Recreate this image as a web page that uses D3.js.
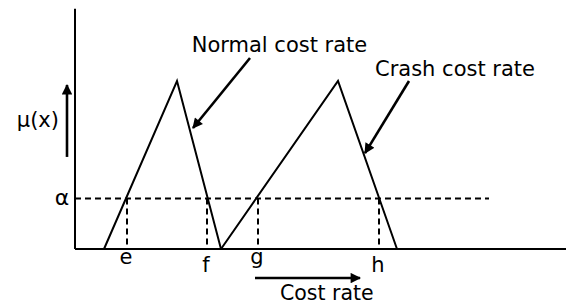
<html lang="en">
<head>
<meta charset="UTF-8">
<title>Normal and crash cost rate</title>
<style>
  body { margin: 0; background: #fff; }
  text { font-family: "DejaVu Sans", Verdana, sans-serif; fill: #000; }
</style>
</head>
<body>
<script src="https://d3js.org/d3.v7.min.js"></script>
<script>
    const w = 566;
    const h = 304;

    // fuzzy numbers (x in cost-rate units, y = membership)
    const normalPts = [[2.9, 0], [10.2, 1], [14.6, 0]];
    const crashPts = [[14.6, 0], [26.3, 1], [32.2, 0]];
    const alpha = 0.3;
    const cutLabels = ["e", "f", "g", "h"];
    const cutValues = [5.2, 13.2, 18.3, 30.4];
    const labelDrop = [0, 1, 0, 1]; // f and h sit lower

    const xScale = d3.scaleLinear().domain([0, 49.1]).range([75, 566]);
    const yScale = d3.scaleLinear().domain([0, 1]).range([249, 81]);

    const svg = d3.select("body").append("svg")
        .attr("width", w)
        .attr("height", h);

    const defs = svg.append("defs");
    defs.append("marker")
        .attr("id", "head")
        .attr("viewBox", "0 0 10 10")
        .attr("refX", 9).attr("refY", 5)
        .attr("markerWidth", 4.4).attr("markerHeight", 4)
        .attr("markerUnits", "strokeWidth")
        .attr("orient", "auto")
        .append("path")
        .attr("d", "M0,0 L10,5 L0,10 z")
        .attr("fill", "#000");

    //axes
    svg.append("line")
        .attr("x1", xScale(0)).attr("x2", xScale(0))
        .attr("y1", yScale(0)).attr("y2", yScale(1.43))
        .attr("stroke", "#000").attr("stroke-width", 2);
    svg.append("line")
        .attr("x1", xScale(0)).attr("x2", xScale(49.1))
        .attr("y1", yScale(0)).attr("y2", yScale(0))
        .attr("stroke", "#000").attr("stroke-width", 2);

    //alpha cut
    svg.append("line")
        .attr("x1", xScale(0)).attr("x2", xScale(41.4))
        .attr("y1", yScale(alpha)).attr("y2", yScale(alpha))
        .attr("stroke", "#000").attr("stroke-width", 2)
        .attr("stroke-dasharray", "6,4");

    svg.selectAll(".cut")
        .data(cutValues)
        .enter()
        .append("line")
        .attr("class", "cut")
        .attr("x1", d => xScale(d)).attr("x2", d => xScale(d))
        .attr("y1", yScale(alpha)).attr("y2", yScale(0))
        .attr("stroke", "#000").attr("stroke-width", 2)
        .attr("stroke-dasharray", "6,4");

    //triangles
    const line = d3.line().x(d => xScale(d[0])).y(d => yScale(d[1]));
    [normalPts, crashPts].forEach(pts => {
        svg.append("path")
            .attr("d", line(pts))
            .attr("fill", "none")
            .attr("stroke", "#000")
            .attr("stroke-width", 2)
            .attr("stroke-linejoin", "miter");
    });

    //labels under axis
    svg.selectAll(".cutlabel")
        .data(cutLabels)
        .enter()
        .append("text")
        .attr("class", "cutlabel")
        .attr("text-anchor", "middle")
        .attr("x", (d, i) => xScale(cutValues[i]) - 1)
        .attr("y", (d, i) => yScale(labelDrop[i] ? -0.137 : -0.089))
        .style("font-size", "21px")
        .text(d => d);

    svg.append("text")
        .attr("text-anchor", "middle")
        .attr("x", xScale(-1.3))
        .attr("y", yScale(alpha) + 6)
        .style("font-size", "22px")
        .text("α");

    //mu(x) arrow
    svg.append("line")
        .attr("x1", xScale(-0.8)).attr("x2", xScale(-0.8))
        .attr("y1", yScale(0.548)).attr("y2", yScale(0.976))
        .attr("stroke", "#000").attr("stroke-width", 2.6)
        .attr("marker-end", "url(#head)");
    svg.append("text")
        .attr("text-anchor", "end")
        .attr("x", xScale(-1.6))
        .attr("y", yScale(0.726))
        .style("font-size", "21px")
        .text("μ(x)");

    //cost rate arrow
    svg.append("line")
        .attr("x1", xScale(18.0)).attr("x2", xScale(28.5))
        .attr("y1", yScale(-0.173)).attr("y2", yScale(-0.173))
        .attr("stroke", "#000").attr("stroke-width", 2.6)
        .attr("marker-end", "url(#head)");
    svg.append("text")
        .attr("x", xScale(20.5))
        .attr("y", yScale(-0.304))
        .style("font-size", "20.5px")
        .text("Cost rate");

    //callouts
    const callouts = [
        { text: "Normal cost rate", tx: 11.67, ty: 1.171, from: [17.5, 1.137], to: [11.8, 0.72] },
        { text: "Crash cost rate", tx: 30.0, ty: 1.03, from: [33.4, 1.0], to: [29.0, 0.571] }
    ];
    callouts.forEach(c => {
        svg.append("text")
            .attr("x", xScale(c.tx))
            .attr("y", yScale(c.ty))
            .style("font-size", "21px")
            .text(c.text);
        svg.append("line")
            .attr("x1", xScale(c.from[0])).attr("y1", yScale(c.from[1]))
            .attr("x2", xScale(c.to[0])).attr("y2", yScale(c.to[1]))
            .attr("stroke", "#000").attr("stroke-width", 2.6)
            .attr("marker-end", "url(#head)");
    });
</script>
</body>
</html>
